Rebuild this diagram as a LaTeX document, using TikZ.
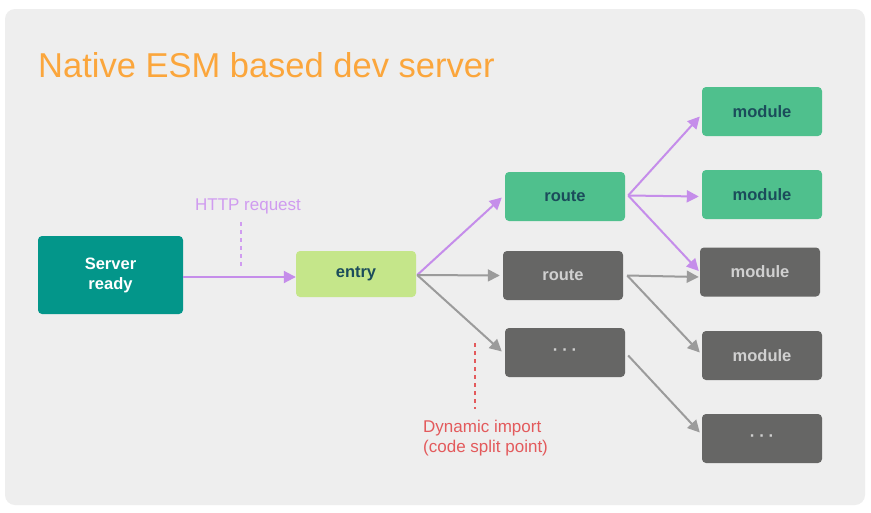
\documentclass[tikz,border=0pt]{standalone}
\usepackage{fontspec}
\setmainfont{Liberation Sans}
\usetikzlibrary{arrows.meta}
\definecolor{bgc}{HTML}{EEEEEE}
\definecolor{titlec}{HTML}{FBA63C}
\definecolor{tealc}{HTML}{03968A}
\definecolor{greenc}{HTML}{4FC08D}
\definecolor{entryc}{HTML}{C5E68A}
\definecolor{darkc}{HTML}{1B4C5B}
\definecolor{grayc}{HTML}{666665}
\definecolor{graytxt}{HTML}{D0D0D0}
\definecolor{purplec}{HTML}{C58DEA}
\definecolor{purplet}{HTML}{D09CF0}
\definecolor{grayline}{HTML}{9B9B9B}
\definecolor{redc}{HTML}{E35A5C}
\tikzset{
  box/.style={rectangle, rounded corners=4pt, minimum width=120pt, minimum height=49pt, inner sep=0pt, font=\fontsize{16.5}{20}\selectfont\bfseries, align=center},
  greenbox/.style={box, fill=greenc, text=darkc},
  graybox/.style={box, fill=grayc, text=graytxt},
  parr/.style={draw=purplec, line width=2pt, -{Triangle[length=12pt,width=12pt]}},
  garr/.style={draw=grayline, line width=2pt, -{Triangle[length=12pt,width=12pt]}},
  lbl/.style={font=\fontsize{17}{20}\selectfont, inner sep=0pt},
}
\newcommand{\mydots}{\raisebox{-2.5pt}{·\hspace{4pt}·\hspace{4pt}·}}
\begin{document}
\begin{tikzpicture}[x=1pt,y=-1pt]
\useasboundingbox (0,0) rectangle (871,512);
\fill[white] (0,0) rectangle (871,512);
\fill[bgc, rounded corners=10pt] (5,9) rectangle (865,505);
\node[anchor=base west, inner sep=0pt, text=titlec, font=\fontsize{34.5}{40}\selectfont] (title) at (38,77) {Native ESM based dev server};

\node[box, fill=tealc, text=white, minimum width=145pt, minimum height=78pt] (server) at (110.5,275) {Server\\ready};
\node[box, fill=entryc, text=darkc, minimum height=46pt] (entry) at (356,274) {entry};
\node[greenbox] (route1) at (565,196.5) {route};
\node[graybox] (route2) at (563,275.5) {route};
\node[graybox] (route3) at (565,352.5) {\mydots};
\node[greenbox] (mod1) at (762,111.5) {module};
\node[greenbox] (mod2) at (762,194.5) {module};
\node[graybox] (mod3) at (760,272) {module};
\node[graybox] (mod4) at (762,355.5) {module};
\node[graybox] (mod5) at (762,438.5) {\mydots};

\node[lbl, text=purplet, anchor=base] (http) at (248,210) {HTTP request};
\coordinate (h1) at (241,222);
\coordinate (h2) at (241,268);
\draw[purplet, line width=2pt, dash pattern=on 4pt off 4pt] (h1) -- (h2);

\node[lbl, text=redc, anchor=base west, align=left] (dyn) at (423,452) {Dynamic import\\(code split point)};
\coordinate (d1) at (475,343);
\coordinate (d2) at (475,409);
\draw[redc, line width=2pt, dash pattern=on 4pt off 4pt] (d1) -- (d2);

\draw[parr] ([yshift=-2pt]server.east) -- ([yshift=-3pt]entry.west);
\draw[parr] ([xshift=1pt,yshift=-1pt]entry.east) -- ([xshift=-3pt,yshift=-1pt]route1.west);
\draw[garr] ([xshift=1pt,yshift=-1pt]entry.east) -- ([xshift=-3pt]route2.west);
\draw[garr] ([xshift=1pt,yshift=-1pt]entry.east) -- ([xshift=-3pt,yshift=1pt]route3.west);

\draw[parr] ([xshift=3pt,yshift=1pt]route1.east) -- ([xshift=-2pt,yshift=-5pt]mod1.west);
\draw[parr] ([xshift=3pt,yshift=1pt]route1.east) -- ([xshift=-3pt,yshift=-2pt]mod2.west);
\draw[parr] ([xshift=3pt,yshift=1pt]route1.east) -- ([xshift=-1pt,yshift=1pt]mod3.west);
\draw[garr] ([xshift=4pt]route2.east) -- ([xshift=-1pt,yshift=-5pt]mod3.west);
\draw[garr] ([xshift=4pt]route2.east) -- ([xshift=-2pt,yshift=3pt]mod4.west);
\draw[garr] ([xshift=3pt,yshift=-3pt]route3.east) -- ([xshift=-2pt,yshift=6pt]mod5.west);
\end{tikzpicture}
\end{document}
